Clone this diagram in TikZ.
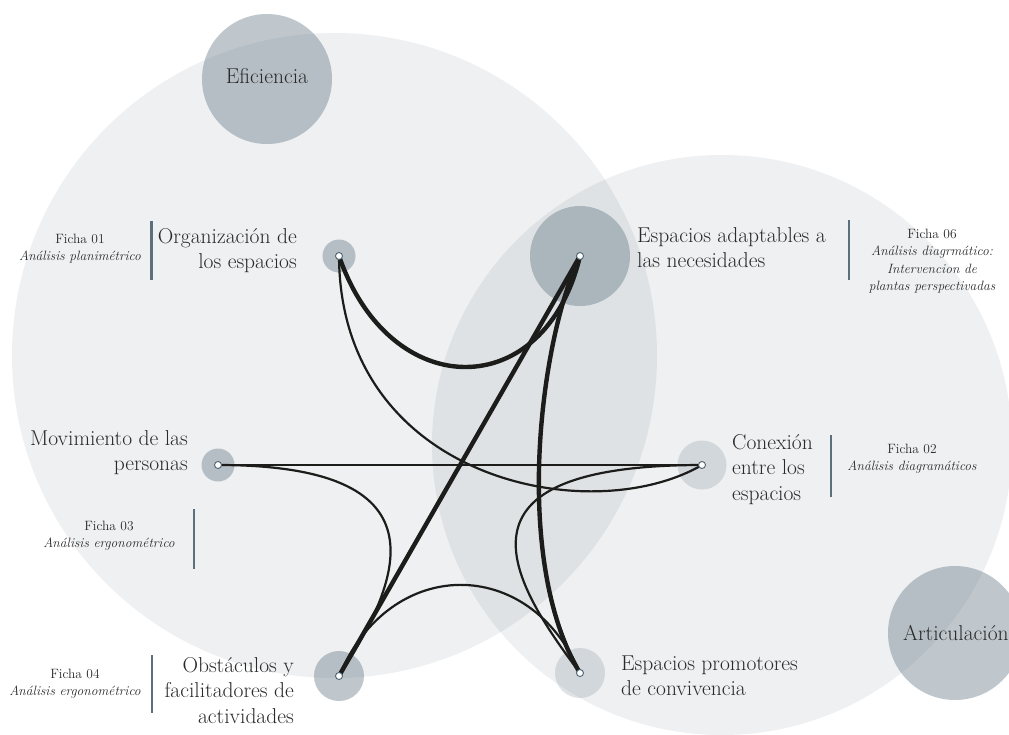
\documentclass[tikz,border=0pt]{standalone}
\usepackage{fontspec}
\definecolor{bigc}{RGB}{90,110,125}
\definecolor{nodec}{RGB}{79,102,118}
\definecolor{barc}{RGB}{91,111,124}
\definecolor{linec}{RGB}{28,28,26}
\definecolor{txt}{RGB}{42,42,42}
\definecolor{dotc}{RGB}{77,98,114}
\tikzset{
  bigcirc/.style={fill=bigc, fill opacity=0.1},
  halo/.style={circle, fill=nodec, fill opacity=0.36, inner sep=0pt},
  halolight/.style={circle, fill=nodec, fill opacity=0.18, inner sep=0pt},
  dot/.style={circle, fill=white, draw=dotc, line width=0.9pt, minimum size=7pt, inner sep=0pt},
  thickedge/.style={draw=linec, line width=4.4pt, line cap=round},
  thinedge/.style={draw=linec, line width=2.2pt, line cap=round},
  lbl/.style={text=txt, font=\fontsize{21.5}{25.5}\selectfont, inner sep=0pt},
  ficha/.style={text=txt, font=\fontsize{13.5}{17.5}\selectfont, inner sep=0pt, align=center, anchor=north},
  bar/.style={draw=barc, line width=2.7pt},
}
\begin{document}
\begin{tikzpicture}[x=1pt,y=-1pt]
\useasboundingbox (0,0) rectangle (1009,734);
\clip (0,0) rectangle (1009,734);
\fill[white] (0,0) rectangle (1009,734);
% large background circles
\fill[bigcirc] (334.5,355.5) circle[radius=322.5pt];
\fill[bigcirc] (722,445) circle[radius=290pt];
% theme circles
\node[halo, minimum size=130pt] (efic) at (267,79) {};
\node[halo, minimum size=134pt] (artic) at (955,633) {};
\node[text=txt, font=\fontsize{21.5}{25.5}\selectfont, inner sep=0pt, anchor=base] (eftxt) at (267,83) {Eficiencia};
\node[text=txt, font=\fontsize{21.5}{25.5}\selectfont, inner sep=0pt, anchor=base west] (artxt) at (903,640) {Articulación};
% node centres
\coordinate (O) at (339,256);
\coordinate (A) at (580,256);
\coordinate (M) at (218,465);
\coordinate (C) at (702,465);
\coordinate (B) at (339,676);
\coordinate (P) at (580,673);
% halos
\node[halo, minimum size=33pt] (Oh) at (O) {};
\node[halo, minimum size=100pt] (Ah) at (A) {};
\node[halo, minimum size=33pt] (Mh) at (M) {};
\node[halolight, minimum size=49pt] (Ch) at (C) {};
\node[halo, minimum size=50pt] (Bh) at (B) {};
\node[halolight, minimum size=50pt] (Ph) at (P) {};
% connectors
\draw[thinedge] (M) -- (C);
\draw[thinedge] (O) .. controls (340,480) and (590,530) .. (C);
\draw[thinedge] (M) .. controls (445,465) and (405,575) .. (B);
\draw[thinedge] (C) .. controls (440,465) and (510,580) .. (P);
\draw[thinedge] (B) .. controls (390,555) and (530,555) .. (P);
\draw[thickedge] (O) .. controls (390,404) and (545,404) .. (A);
\draw[thickedge] (A) -- (B);
\draw[thickedge] (A) .. controls (540,340) and (512,560) .. (P);
% dots
\node[dot] (Od) at (O) {};
\node[dot] (Ad) at (A) {};
\node[dot] (Md) at (M) {};
\node[dot] (Cd) at (C) {};
\node[dot] (Bd) at (B) {};
\node[dot] (Pd) at (P) {};
% labels
\node[lbl, align=right, anchor=north east] (Ol) at (297,225.15) {\strut Organización de\\los espacios};
\node[lbl, align=left, anchor=north west] (Al) at (637,224.15) {\strut Espacios adaptables a\\las necesidades};
\node[lbl, align=right, anchor=north east] (Ml) at (188,427.15) {\strut Movimiento de las\\personas};
\node[lbl, align=left, anchor=north west] (Cl) at (732,431.15) {\strut Conexión\\entre los\\espacios};
\node[lbl, align=right, anchor=north east] (Bl) at (294,654.15) {\strut Obstáculos y\\facilitadores de\\actividades};
\node[lbl, align=left, anchor=north west] (Pl) at (621,652.15) {\strut Espacios promotores\\de convivencia};
% fichas
\node[ficha] (F1) at (80,230.75) {\strut Ficha 01\\\itshape Análisis planimétrico};
\node[ficha] (F6) at (932,225.75) {\strut Ficha 06\\\itshape Análisis diagrmático:\\\itshape Intervencion de\\\itshape plantas perspectivadas};
\node[ficha] (F2) at (912,440.75) {\strut Ficha 02\\\itshape Análisis diagramáticos};
\node[ficha] (F3) at (109,517.75) {\strut Ficha 03\\\itshape Análisis ergonométrico};
\node[ficha] (F4) at (75,665.75) {\strut Ficha 04\\\itshape Análisis ergonométrico};
% separator bars
\draw[bar] (151.5,221) -- (151.5,280);
\draw[bar] (849,220) -- (849,280);
\draw[bar] (831,435) -- (831,497);
\draw[bar] (194,509) -- (194,569);
\draw[bar] (152,655) -- (152,713);
\end{tikzpicture}
\end{document}
